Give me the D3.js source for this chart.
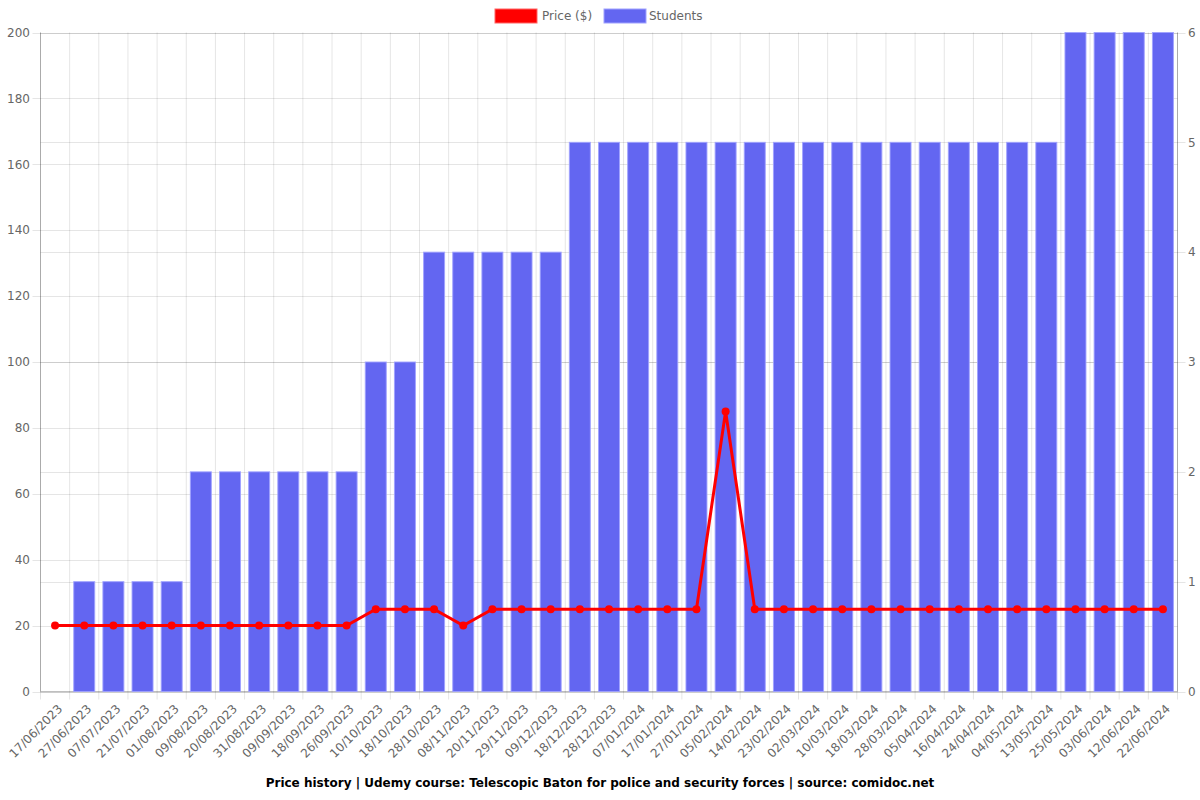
<!DOCTYPE html>
<html><head><meta charset="utf-8">
<script src="https://cdn.jsdelivr.net/npm/d3@7"></script>
<style>body{margin:0;background:#fff;font-family:"DejaVu Sans",sans-serif;}</style>
</head><body>
<svg id="c" width="1200" height="800"></svg>
<script>
const dates = ["17/06/2023","27/06/2023","07/07/2023","21/07/2023","01/08/2023","09/08/2023","20/08/2023","31/08/2023","09/09/2023","18/09/2023","26/09/2023","10/10/2023","18/10/2023","28/10/2023","08/11/2023","20/11/2023","29/11/2023","09/12/2023","18/12/2023","28/12/2023","07/01/2024","17/01/2024","27/01/2024","05/02/2024","14/02/2024","23/02/2024","02/03/2024","10/03/2024","18/03/2024","28/03/2024","05/04/2024","16/04/2024","24/04/2024","04/05/2024","13/05/2024","25/05/2024","03/06/2024","12/06/2024","22/06/2024"];
const students = [0,1,1,1,1,2,2,2,2,2,2,3,3,4,4,4,4,4,5,5,5,5,5,5,5,5,5,5,5,5,5,5,5,5,5,6,6,6,6];
const prices = [20,20,20,20,20,20,20,20,20,20,20,25,25,25,20,25,25,25,25,25,25,25,25,85,25,25,25,25,25,25,25,25,25,25,25,25,25,25,25];
const leftTicks = [0,20,40,60,80,100,120,140,160,180,200];
const rightTicks = [0,1,2,3,4,5,6];
const titleText = "Price history | Udemy course: Telescopic Baton for police and security forces | source: comidoc.net";

const svg = d3.select("#c");
const L = 40.5, R = 1177.5, T = 32.5, B = 691.5;
const x = d3.scaleBand().domain(dates).range([L, R]);
const yL = d3.scaleLinear().domain([0,200]).range([B, T]);
const yR = d3.scaleLinear().domain([0,6]).range([B, T]);
const grid = "rgba(0,0,0,0.1)";

// vertical grid
const edges = dates.map(d => x(d)).concat([R]);
svg.append("g").selectAll("line").data(edges).join("line")
  .attr("x1", d => d).attr("x2", d => d).attr("y1", T).attr("y2", B + 8)
  .attr("stroke", grid).attr("stroke-width", 1);
// horizontal grids
svg.append("g").selectAll("line").data(leftTicks).join("line")
  .attr("x1", L - 8).attr("x2", R).attr("y1", d => Math.round(yL(d)) + 0.5).attr("y2", d => Math.round(yL(d)) + 0.5)
  .attr("stroke", grid);
svg.append("g").selectAll("line").data(rightTicks).join("line")
  .attr("x1", L).attr("x2", R + 8).attr("y1", d => Math.round(yR(d)) + 0.5).attr("y2", d => Math.round(yR(d)) + 0.5)
  .attr("stroke", grid);
// axis borders
svg.append("line").attr("x1", L).attr("x2", L).attr("y1", T).attr("y2", B).attr("stroke", "rgba(0,0,0,0.25)");
svg.append("line").attr("x1", R).attr("x2", R).attr("y1", T).attr("y2", B).attr("stroke", "rgba(0,0,0,0.25)");
svg.append("line").attr("x1", L).attr("x2", R).attr("y1", B).attr("y2", B).attr("stroke", "rgba(0,0,0,0.25)");

// bars
const bw = x.bandwidth() * 0.72;
svg.append("g").selectAll("rect").data(students.map((s,i)=>({s, d: dates[i]})).filter(o => o.s > 0)).join("rect")
  .attr("x", o => x(o.d) + (x.bandwidth() - bw) / 2)
  .attr("width", bw)
  .attr("y", o => yR(o.s))
  .attr("height", o => yR(0) - yR(o.s))
  .attr("fill", "rgb(99,102,241)")
  .attr("stroke", "rgba(160,162,255,0.9)").attr("stroke-width", 1);

// price line
const cx = d => x(d) + x.bandwidth() / 2;
const line = d3.line().x((p,i) => cx(dates[i])).y(p => yL(p));
svg.append("path").datum(prices).attr("d", line).attr("fill", "none").attr("stroke", "rgb(255,0,0)").attr("stroke-width", 3);
svg.append("g").selectAll("circle").data(prices).join("circle")
  .attr("cx", (p,i) => cx(dates[i])).attr("cy", p => yL(p)).attr("r", 4).attr("fill", "rgb(255,0,0)");

// left axis labels
svg.append("g").selectAll("text").data(leftTicks).join("text")
  .attr("x", 30).attr("y", d => yL(d)).attr("dy", "0.35em").attr("text-anchor", "end")
  .attr("font-size", 12).attr("fill", "#666").text(d => d);
svg.append("g").selectAll("text").data(rightTicks).join("text")
  .attr("x", 1188).attr("y", d => yR(d)).attr("dy", "0.35em").attr("text-anchor", "start")
  .attr("font-size", 12).attr("fill", "#666").text(d => d);
// x labels
svg.append("g").selectAll("text").data(dates).join("text")
  .attr("transform", d => `translate(${cx(d) + 5},${B + 15}) rotate(-45)`)
  .attr("text-anchor", "end").attr("dy", "0.35em")
  .attr("font-size", 12).attr("fill", "#666").text(d => d);

// legend
const lg = svg.append("g");
lg.append("rect").attr("x", 495).attr("y", 9).attr("width", 42).attr("height", 14).attr("fill", "rgb(255,0,0)").attr("stroke", "rgba(255,100,100,1)");
lg.append("text").attr("x", 542).attr("y", 16).attr("dy", "0.35em").attr("font-size", 12).attr("fill", "#666").text("Price ($)");
lg.append("rect").attr("x", 604).attr("y", 9).attr("width", 42).attr("height", 14).attr("fill", "rgb(99,102,241)").attr("stroke", "rgba(160,162,255,1)");
lg.append("text").attr("x", 649).attr("y", 16).attr("dy", "0.35em").attr("font-size", 12).attr("fill", "#666").text("Students");

svg.append("text").attr("x", 600).attr("y", 783).attr("dy", "0.35em").attr("text-anchor", "middle")
  .attr("font-size", 12).attr("font-weight", "bold").attr("fill", "#000").text(titleText);
</script>
</body></html>
